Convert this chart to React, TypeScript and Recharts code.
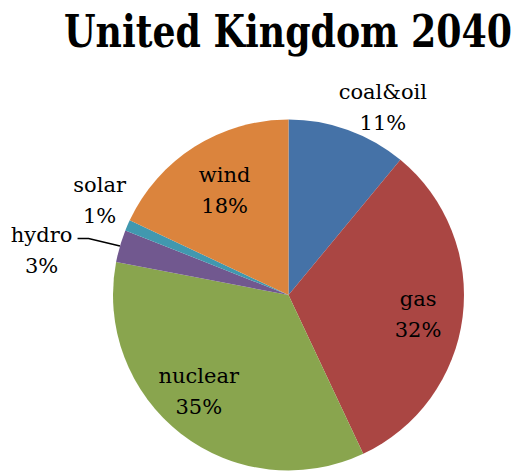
import { Cell, Pie, PieChart } from "recharts";

// UK electricity mix 2040, shares in percent, clockwise from 12 o'clock.
const categories = ["coal&oil", "gas", "nuclear", "hydro", "solar", "wind"];
const shares = [11, 32, 35, 3, 1, 18];

const COLORS = ["#4572a7", "#aa4643", "#89a54e", "#71588f", "#4198af", "#db843d"];
const FONT = "'DejaVu Serif', 'Liberation Serif', serif";

// Label placement: radius as a fraction of the pie radius along the slice's
// mid angle, then a nudge to the first line's baseline. Thin slices go outside.
const LABEL_PLACE = [
  { k: 1.15, dx: 26, dy: -6 },
  { k: 0.75, dx: -1, dy: -5 },
  { k: 0.75, dx: -9, dy: -16 },
  { k: 1.4, dx: -11, dy: 16 },
  { k: 1.21, dx: 6, dy: -19 },
  { k: 0.7, dx: 2, dy: -9 },
];
const LINE_GAP = 31;

const data = categories.map((name, i) => ({ name, value: shares[i] }));

const RAD = Math.PI / 180;

function polar(cx: number, cy: number, r: number, angle: number) {
  return { x: cx + r * Math.cos(-angle * RAD), y: cy + r * Math.sin(-angle * RAD) };
}

function SliceLabel(props: any) {
  const { cx, cy, midAngle, outerRadius, index, name, value } = props;
  const place = LABEL_PLACE[index];
  const p = polar(cx, cy, outerRadius * place.k, midAngle);
  const x = p.x + place.dx;
  const y = p.y + place.dy;
  const edge = polar(cx, cy, outerRadius, midAngle);
  return (
    <g>
      {name === "hydro" && (
        <polyline
          points={`${edge.x},${edge.y} ${x + 47},${y - 4} ${x + 36},${y - 4}`}
          fill="none"
          stroke="#000"
          strokeWidth={1.6}
        />
      )}
      <text x={x} y={y} textAnchor="middle" fill="#000" style={{ fontFamily: FONT, fontSize: 21 }}>
        <tspan x={x} y={y}>{name}</tspan>
        <tspan x={x} y={y + LINE_GAP}>{`${value}%`}</tspan>
      </text>
    </g>
  );
}

export default function App() {
  return (
    <div style={{ position: "absolute", left: 0, top: 0, width: 519, height: 471, background: "#fff" }}>
      <PieChart width={519} height={471} margin={{ top: 0, right: 0, bottom: 0, left: 0 }}>
        <Pie
          data={data}
          dataKey="value"
          nameKey="name"
          cx={288.5}
          cy={295}
          outerRadius={175.5}
          startAngle={90}
          endAngle={-270}
          stroke="none"
          label={SliceLabel}
          labelLine={false}
          isAnimationActive={false}
        >
          {data.map((d, i) => (
            <Cell key={d.name} fill={COLORS[i]} />
          ))}
        </Pie>
      </PieChart>
      <svg
        width={519}
        height={100}
        style={{ position: "absolute", left: 0, top: 0, pointerEvents: "none" }}
      >
        <text
          x={288}
          y={47}
          textAnchor="middle"
          textLength={448}
          lengthAdjust="spacingAndGlyphs"
          style={{ fontFamily: FONT, fontSize: 45, fontWeight: "bold", fontStretch: "condensed" }}
        >
          United Kingdom 2040
        </text>
      </svg>
    </div>
  );
}
